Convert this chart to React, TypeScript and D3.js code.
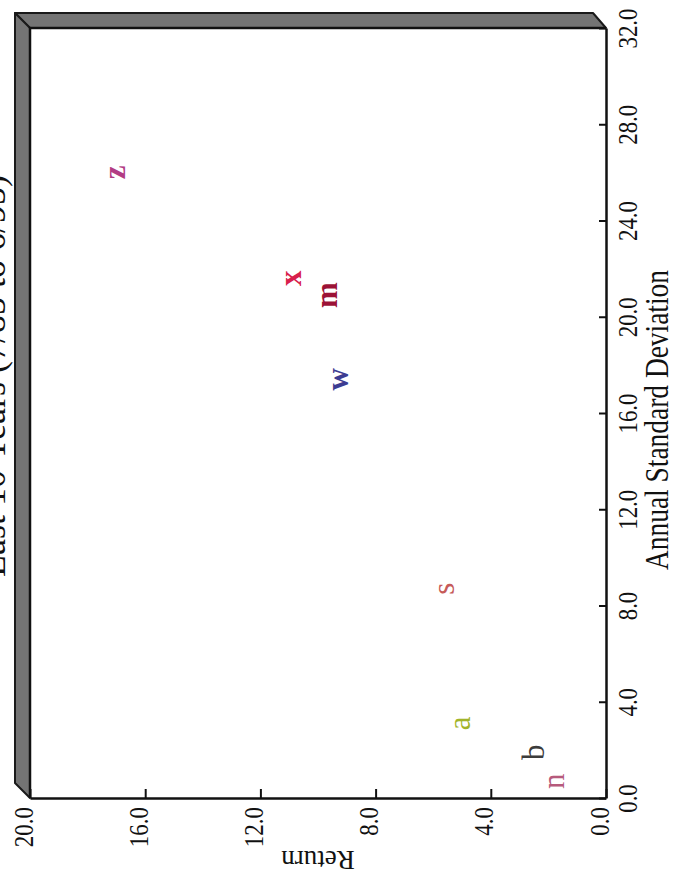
import { useEffect, useRef } from 'react';
import * as d3 from 'd3';

// Risk / return points, one letter per fund
const labels = ['z', 'x', 'm', 'w', 's', 'a', 'b', 'n'];
const stdDev = [26.0, 21.6, 20.9, 17.4, 8.7, 3.1, 1.9, 0.7];
const returns = [17.05, 10.97, 9.69, 9.34, 5.63, 5.07, 2.53, 1.84];

const returnTicks = [0, 4, 8, 12, 16, 20];
const sdTicks = [0, 4, 8, 12, 16, 20, 24, 28, 32];

const title = 'Last 10 Years (7/85 to 6/95)';
const xTitle = 'Annual Standard Deviation';
const yTitle = 'Return';

// styling, kept apart from the data
const letterColor: Record<string, string> = {
    z: '#b23c84',
    x: '#d8204c',
    m: '#9c1236',
    w: '#3c3c92',
    s: '#c65a58',
    a: '#a2b42a',
    b: '#3c3c3c',
    n: '#b65a7c',
};
const boldLetters = new Set(['z', 'x', 'm', 'w']);

const WIDTH = 678;
const HEIGHT = 877;
const FONT = '"Liberation Serif", "Times New Roman", serif';

export default function App() {
    const ref = useRef<SVGSVGElement>(null);

    useEffect(() => {
        const svg = d3.select(ref.current);
        svg.selectAll('*').remove();

        // The chart is drawn turned a quarter turn: return runs right-to-left,
        // standard deviation runs bottom-to-top.
        const left = 30, right = 606, top = 28, bottom = 798;
        const depth = 15;

        const x = d3.scaleLinear().domain([0, 20]).range([right, left]);
        const y = d3.scaleLinear().domain([0, 32]).range([bottom, top]);

        // 3D box depth on the left and top
        const bevel = svg.append('g')
            .attr('fill', '#747474')
            .attr('stroke', '#1a1a1a')
            .attr('stroke-width', 2)
            .attr('stroke-linejoin', 'round');
        bevel.append('path')
            .attr('d', `M${left - depth},${top - depth}L${right - depth + 2},${top - depth}L${right},${top}L${left},${top}Z`);
        bevel.append('path')
            .attr('d', `M${left - depth},${top - depth}L${left},${top}L${left},${bottom}L${left - depth},${bottom - depth}Z`);

        // Return axis along the bottom
        svg.append('g')
            .attr('transform', `translate(0,${bottom})`)
            .call(d3.axisBottom(x).tickValues(returnTicks).tickSizeInner(-9).tickSizeOuter(0).tickFormat(d3.format('.1f')))
            .call(g => g.select('.domain').attr('stroke', '#111').attr('stroke-width', 2.5))
            .call(g => g.selectAll('.tick line').attr('stroke', '#111').attr('stroke-width', 2))
            .call(g => g.selectAll('.tick text')
                .attr('y', null)
                .attr('dy', null)
                .attr('text-anchor', 'end')
                .attr('transform', 'translate(2,9) rotate(-90) scale(0.82,1)')
                .attr('fill', '#111')
                .attr('font-family', FONT)
                .attr('font-size', 28));

        // Standard deviation axis along the right
        svg.append('g')
            .attr('transform', `translate(${right},0)`)
            .call(d3.axisRight(y).tickValues(sdTicks).tickSizeInner(-7).tickSizeOuter(0).tickFormat(d3.format('.1f')))
            .call(g => g.select('.domain').attr('stroke', '#111').attr('stroke-width', 2.5))
            .call(g => g.selectAll('.tick text')
                .attr('x', null)
                .attr('dy', null)
                .attr('text-anchor', 'middle')
                .attr('transform', 'translate(31,0) rotate(-90) scale(0.82,1)')
                .attr('fill', '#111')
                .attr('font-family', FONT)
                .attr('font-size', 28))
            .call(g => g.selectAll('.tick line').attr('stroke', '#111').attr('stroke-width', 2));

        // frame lines left and top
        svg.append('path')
            .attr('d', `M${left},${bottom}L${left},${top}L${right},${top}`)
            .attr('fill', 'none')
            .attr('stroke', '#111')
            .attr('stroke-width', 2.5);

        // the letters
        const data = labels.map((l, i) => ({ l, sd: stdDev[i], ret: returns[i] }));
        svg.append('g')
            .selectAll('text')
            .data(data)
            .join('text')
            .attr('transform', d => `translate(${x(d.ret)},${y(d.sd)}) rotate(-90)`)
            .attr('text-anchor', 'middle')
            .attr('dominant-baseline', 'central')
            .attr('font-family', FONT)
            .attr('font-size', 31)
            .attr('font-weight', d => boldLetters.has(d.l) ? 'bold' : 'normal')
            .attr('fill', d => letterColor[d.l])
            .text(d => d.l);

        // titles
        svg.append('text')
            .attr('transform', `translate(668,${(top + bottom) / 2 + 7}) rotate(-90)`)
            .attr('text-anchor', 'middle')
            .attr('font-family', FONT)
            .attr('font-size', 34)
            .attr('textLength', 300)
            .attr('lengthAdjust', 'spacingAndGlyphs')
            .attr('fill', '#111')
            .text(xTitle);

        svg.append('text')
            .attr('transform', `translate(${(left + right) / 2},851) rotate(180)`)
            .attr('text-anchor', 'middle')
            .attr('font-family', FONT)
            .attr('font-size', 27)
            .attr('fill', '#111')
            .text(yTitle);

        // title sits mostly off the left edge, as in the scan
        svg.append('text')
            .attr('transform', `translate(5,376) rotate(-90)`)
            .attr('text-anchor', 'middle')
            .attr('font-family', FONT)
            .attr('font-size', 36)
            .attr('fill', '#111')
            .text(title);
    }, []);

    return (
        <svg
            ref={ref}
            width={WIDTH}
            height={HEIGHT}
            viewBox={`0 0 ${WIDTH} ${HEIGHT}`}
            style={{ position: 'absolute', left: 0, top: 0, background: '#fff' }}
        />
    );
}
